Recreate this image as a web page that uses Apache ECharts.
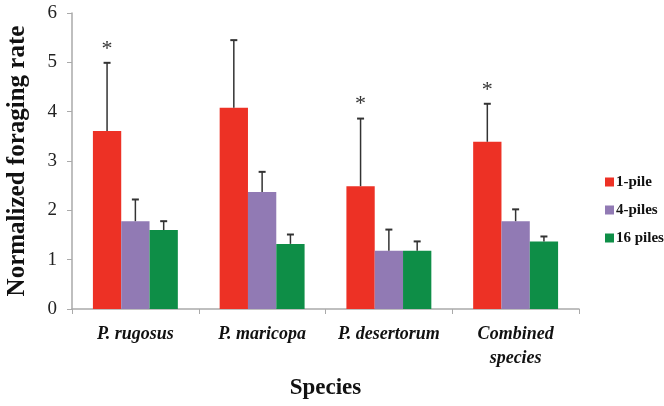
<!DOCTYPE html>
<html><head><meta charset="utf-8">
<script src="https://cdn.jsdelivr.net/npm/echarts@6/dist/echarts.min.js"></script>
<style>html,body{margin:0;padding:0;background:#fff}#c{width:664px;height:406px}</style>
</head><body><div id="c"></div>
<script>
const categories = ['P. rugosus', 'P. maricopa', 'P. desertorum', 'Combined\nspecies'];
const seriesNames = ['1-pile', '4-piles', '16 piles'];
const pile1 = [3.61, 4.08, 2.49, 3.39];
const pile4 = [1.78, 2.37, 1.18, 1.78];
const pile16 = [1.60, 1.32, 1.18, 1.37];
const err1 = [4.99, 5.45, 3.86, 4.16];
const err4 = [2.22, 2.78, 1.61, 2.02];
const err16 = [1.78, 1.51, 1.37, 1.47];
const star1 = [true, false, true, true];
const yTicks = [0, 1, 2, 3, 4, 5, 6];
const colors = ['#ED3125', '#917AB4', '#0E8E47'];

const values = [pile1, pile4, pile16];
const errs = [err1, err4, err16];
const stars = [star1, [false,false,false,false], [false,false,false,false]];
const serif = 'Liberation Serif';

const chart = echarts.init(document.getElementById('c'));
const series = [];
values.forEach((v, i) => {
  series.push({
    name: seriesNames[i], type: 'bar', data: v, barGap: '0%', barCategoryGap: '33%',
    itemStyle: { color: colors[i] }
  });
});
values.forEach((v, i) => {
  series.push({
    type: 'custom', silent: true, z: 5,
    data: v.map((val, j) => [j, val, errs[i][j], stars[i][j] ? 1 : 0]),
    renderItem: function (params, api) {
      const cw = api.size([1, 0])[0];
      const bw = cw * 0.67 / 3;
      const base = api.coord([api.value(0), api.value(1)]);
      const top = api.coord([api.value(0), api.value(2)]);
      const x = base[0] + (i - 1) * bw;
      const cap = 3.5;
      const children = [
        { type: 'line', shape: { x1: x, y1: base[1], x2: x, y2: top[1] }, style: { stroke: '#333', lineWidth: 1.5 } },
        { type: 'line', shape: { x1: x - cap, y1: top[1], x2: x + cap, y2: top[1] }, style: { stroke: '#333', lineWidth: 2 } }
      ];
      if (api.value(3)) {
        children.push({ type: 'text', style: { x: x, y: top[1] - 14, text: '*', fill: '#333', font: '22px ' + serif, align: 'center', verticalAlign: 'middle' } });
      }
      return { type: 'group', children: children };
    }
  });
});

chart.setOption({
  animation: false,
  grid: { left: 72, right: 85, top: 13, bottom: 97, containLabel: false, outerBoundsMode: 'none' },
  legend: {
    data: seriesNames, orient: 'vertical', left: 600, top: 169, itemWidth: 9, itemHeight: 9, itemGap: 12,
    icon: 'rect',
    textStyle: { fontFamily: serif, fontWeight: 'bold', fontSize: 15, lineHeight: 16, color: '#111', padding: [0, 0, 0, -3] }
  },
  xAxis: {
    type: 'category', data: categories,
    name: 'Species', nameLocation: 'middle', nameGap: 68,
    nameTextStyle: { fontFamily: serif, fontWeight: 'bold', fontSize: 23, color: '#111' },
    axisLine: { lineStyle: { color: '#aaa', width: 1.5 } },
    axisTick: { show: true, alignWithLabel: false, length: 5, lineStyle: { color: '#aaa' } },
    axisLabel: { interval: 0, hideOverlap: false, fontFamily: serif, fontWeight: 'bold', fontStyle: 'italic', fontSize: 18, color: '#111', margin: 13, lineHeight: 24 }
  },
  yAxis: {
    type: 'value', min: 0, max: 6, interval: 1,
    name: 'Normalized foraging rate', nameLocation: 'middle', nameGap: 42,
    nameTextStyle: { fontFamily: serif, fontWeight: 'bold', fontSize: 25, color: '#111' },
    axisLine: { show: true, lineStyle: { color: '#aaa', width: 1.5 } },
    axisTick: { show: true, length: 5, lineStyle: { color: '#aaa' } },
    splitLine: { show: false },
    axisLabel: { fontFamily: serif, fontSize: 19, color: '#222', margin: 15,
      formatter: v => yTicks.includes(v) ? String(v) : '' }
  },
  series: series
});
</script></body></html>
